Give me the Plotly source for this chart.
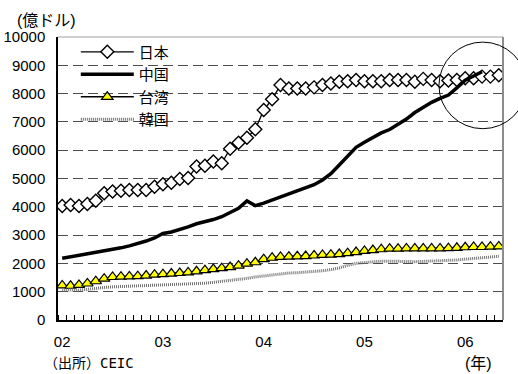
import plotly.graph_objects as go

# Monthly foreign-exchange reserves, Jan 2002 onward (100 million USD)
japan = [4030, 4060, 4030, 4100, 4215, 4480, 4540, 4570, 4590, 4590, 4590, 4710,
         4800, 4850, 4980, 5020, 5420, 5450, 5600, 5540, 6050, 6260, 6440, 6740,
         7420, 7800, 8300, 8180, 8180, 8180, 8220, 8300, 8360, 8420, 8440, 8480,
         8440, 8440, 8440, 8480, 8480, 8480, 8420, 8520, 8480, 8440, 8460, 8480,
         8540, 8540, 8600, 8600, 8650]
china = [2180, 2230, 2290, 2350, 2400, 2440, 2490, 2550, 2620, 2700, 2790, 2900,
         3060, 3110, 3190, 3290, 3400, 3460, 3550, 3650, 3800, 3950, 4210, 4040,
         4130, 4240, 4350, 4450, 4540, 4650, 4780, 4950, 5170, 5480, 5800, 6100,
         6280, 6460, 6610, 6730, 6920, 7100, 7330, 7520, 7690, 7830, 7950, 8200,
         8470, 8620, 8770]
taiwan = [1220, 1210, 1240, 1290, 1370, 1460, 1520, 1530, 1540, 1550, 1570, 1600,
          1620, 1640, 1660, 1680, 1720, 1760, 1800, 1830, 1870, 1920, 1990, 2040,
          2150, 2200, 2230, 2240, 2250, 2260, 2280, 2300, 2310, 2330, 2360, 2400,
          2440, 2470, 2500, 2520, 2520, 2530, 2530, 2530, 2530, 2530, 2540, 2550,
          2570, 2580, 2580, 2590, 2600]
korea = [1060, 1050, 1060, 1080, 1120, 1150, 1170, 1180, 1190, 1200, 1210, 1220,
         1230, 1240, 1250, 1260, 1280, 1300, 1330, 1360, 1400, 1430, 1470, 1520,
         1560, 1600, 1630, 1660, 1670, 1690, 1710, 1740, 1780, 1840, 1930, 2000,
         2030, 2060, 2080, 2080, 2070, 2060, 2060, 2070, 2080, 2100, 2100, 2120,
         2150, 2170, 2200, 2220, 2250]

year_ticks = [0, 12, 24, 36, 48]
year_labels = ["02", "03", "04", "05", "06"]
y_ticks = list(range(0, 10001, 1000))
y_labels = [str(v) for v in y_ticks]

FONT = "Liberation Sans, Arial, Noto Sans CJK JP"
MONO = "DejaVu Sans Mono, Noto Sans CJK JP"

def months(series):
    return list(range(len(series)))

fig = go.Figure()
fig.add_trace(go.Scatter(
    x=months(japan), y=japan, name="日本", mode="lines+markers",
    line=dict(color="black", width=1.3),
    marker=dict(symbol="diamond", size=10, color="white",
                line=dict(color="black", width=1.4))))
fig.add_trace(go.Scatter(
    x=months(china), y=china, name="中国", mode="lines",
    line=dict(color="black", width=3.5)))
fig.add_trace(go.Scatter(
    x=months(taiwan), y=taiwan, name="台湾", mode="lines+markers",
    line=dict(color="black", width=1.5),
    marker=dict(symbol="triangle-up", size=10, color="#ffff00",
                line=dict(color="black", width=1.2))))
fig.add_trace(go.Scatter(
    x=months(korea), y=korea, name="韓国", mode="lines",
    line=dict(color="#707070", width=3, dash="1px,1px")))

shapes = [
    # top and right frame lines
    dict(type="line", xref="paper", yref="paper", x0=0, x1=1, y0=1, y1=1,
         line=dict(color="#a0a0a0", width=1.2)),
    dict(type="line", xref="paper", yref="paper", x0=1, x1=1, y0=0, y1=1,
         line=dict(color="#8c8c8c", width=2)),
    # highlight circle around the crossover
    dict(type="circle", xref="paper", yref="paper",
         x0=0.856, x1=1.053, y0=0.676, y1=0.982,
         line=dict(color="black", width=1)),
]

annotations = [
    dict(text="(億ドル)", xref="paper", yref="paper", x=0, y=1.0,
         xshift=-43, yshift=17, xanchor="left", yanchor="middle",
         showarrow=False, font=dict(size=16, family=FONT, color="black")),
    dict(text="（出所）CEIC", xref="paper", yref="paper", x=-0.036, y=0,
         yshift=-43, xanchor="left", yanchor="middle", showarrow=False,
         font=dict(size=14, family=MONO, color="black")),
    dict(text="(年)", xref="paper", yref="paper", x=0.910, y=0,
         yshift=-43, xanchor="left", yanchor="middle", showarrow=False,
         font=dict(size=16, family=FONT, color="black")),
]

fig.update_layout(
    width=518, height=374,
    margin=dict(l=58, r=15, t=37, b=54, autoexpand=False),
    paper_bgcolor="white", plot_bgcolor="white",
    font=dict(family=FONT, size=15, color="black"),
    showlegend=True,
    legend=dict(x=0.04, y=1.005, xanchor="left", yanchor="top",
                bgcolor="rgba(0,0,0,0)", itemwidth=53,
                font=dict(size=15, family=FONT), tracegroupgap=0),
    xaxis=dict(range=[-0.5, 52.5], tickvals=year_ticks, ticktext=year_labels,
               ticks="", showgrid=False, zeroline=False, automargin=False,
               showline=True, linecolor="black", linewidth=1.5,
               ticklabelstandoff=7,
               minor=dict(ticks="inside", ticklen=5, tick0=-0.5, dtick=1,
                          tickcolor="black", tickwidth=1, showgrid=False)),
    yaxis=dict(range=[0, 10000], tickvals=y_ticks, ticktext=y_labels, ticks="",
               showgrid=True, gridcolor="#4d4d4d", gridwidth=1,
               griddash="10px,5px", zeroline=False, automargin=False,
               showline=True, linecolor="black", linewidth=1.5,
               ticklabelstandoff=8),
    shapes=shapes,
    annotations=annotations,
)

fig.write_html("out.html")
